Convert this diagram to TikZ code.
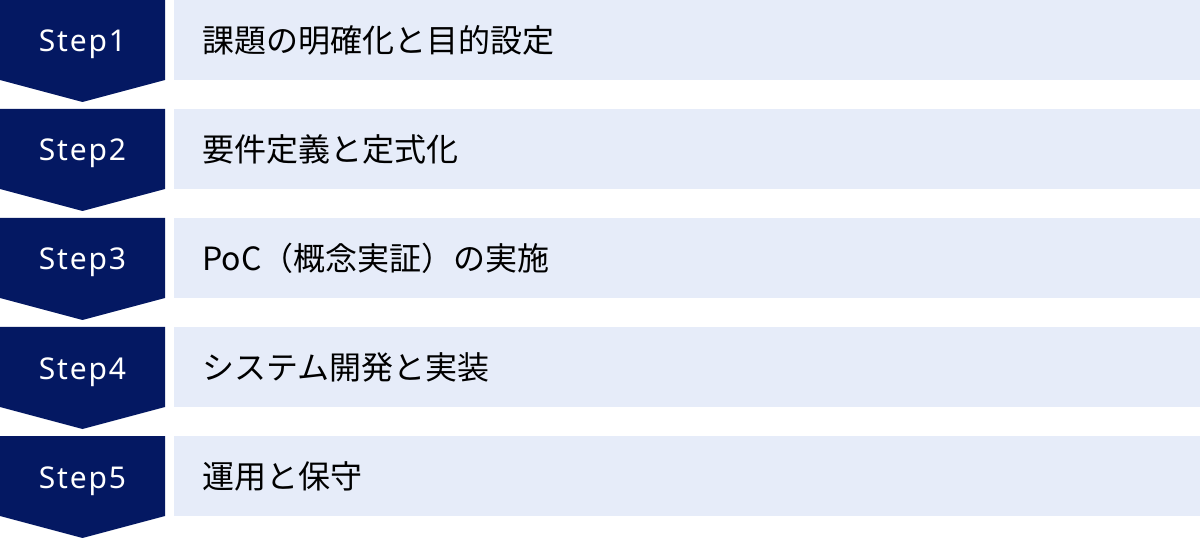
\documentclass[tikz,border=0pt]{standalone}
\usepackage{fontspec}
\setmainfont{Noto Sans}
\newfontfamily\stepfont[LetterSpace=6]{Noto Sans}
\newfontfamily\jpfont{Noto Sans CJK JP}
\usepackage{tikz}
\definecolor{stepnavy}{HTML}{041862}
\definecolor{paleblue}{HTML}{E6ECF9}
\tikzstyle{steplabel}=[text=white,anchor=base,inner sep=0pt,font=\stepfont\fontsize{22.5}{27}\selectfont]
\tikzstyle{tasklabel}=[anchor=west,inner sep=0pt,font=\jpfont\fontsize{24}{29}\selectfont]

\begin{document}
\begin{tikzpicture}[x=0.75pt,y=-0.75pt]
        \useasboundingbox (0,0) rectangle (1200,538);

        \foreach \i/\t in {1/課題の明確化と目的設定,2/要件定義と定式化,3/PoC（概念実証）の実施,4/システム開発と実装,5/運用と保守}{
          \pgfmathsetmacro\y{109*(\i-1)}
          \fill[stepnavy] (0,\y) -- (165,\y) -- (165,\y+80) -- (82.5,\y+102)
          -- (0,\y+80) -- cycle;
          \fill[paleblue] (174,\y) rectangle (1200,\y+80);
          \node[steplabel] (s\i) at (82.5,\y+52) {Step\i};
          \node[tasklabel] (t\i) at (202,\y+40) {\t};
        }
      \end{tikzpicture}
\end{document}
